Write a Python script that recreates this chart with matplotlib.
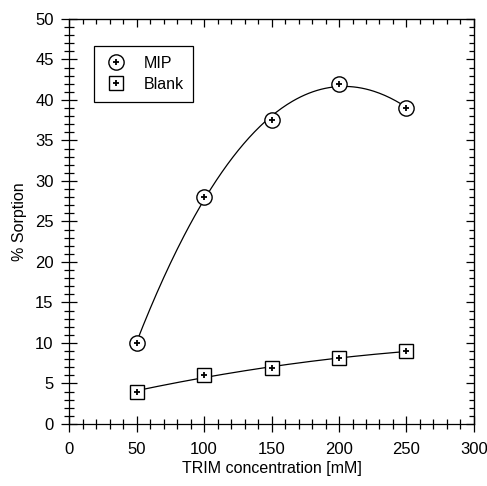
import numpy as np
import matplotlib.pyplot as plt
from matplotlib.ticker import MultipleLocator

plt.rcParams['font.family'] = ['Liberation Sans', 'DejaVu Sans']

# data
trim = [50, 100, 150, 200, 250]
mip = [10.0, 28.0, 37.5, 42.0, 39.0]
blank = [4.0, 6.0, 6.9, 8.1, 9.0]

fig = plt.figure(figsize=(4.87, 4.86), dpi=100)
ax = fig.add_axes([0.1417, 0.1276, 0.8316, 0.8334])

# smooth fitted curves
xs = np.linspace(50, 250, 200)
ax.plot(xs, np.polyval(np.polyfit(trim, mip, 3), xs), color='black', lw=0.9, zorder=2)
ax.plot(xs, np.polyval(np.polyfit(trim, blank, 2), xs), color='black', lw=0.9, zorder=2)

ax.plot(trim, mip, 'o', ms=11, mfc='white', mec='black', mew=1.0, zorder=3)
ax.plot(trim, mip, '+', ms=5, mec='black', mew=1.3, zorder=4)
ax.plot(trim, blank, 's', ms=10, mfc='white', mec='black', mew=1.0, zorder=3)
ax.plot(trim, blank, '+', ms=5, mec='black', mew=1.3, zorder=4)

# legend handles
h1, = ax.plot([], [], 'o', ms=11, mfc='white', mec='black', mew=1.0)
h1p, = ax.plot([], [], '+', ms=5, mec='black', mew=1.3)
h2, = ax.plot([], [], 's', ms=10, mfc='white', mec='black', mew=1.0)
h2p, = ax.plot([], [], '+', ms=5, mec='black', mew=1.3)
leg = ax.legend([(h1, h1p), (h2, h2p)], ['MIP', 'Blank'], loc='upper left',
                bbox_to_anchor=(0.062, 0.933), borderaxespad=0, fontsize=11.5,
                frameon=True, fancybox=False, edgecolor='black', framealpha=1,
                handlelength=1.6, borderpad=0.6, labelspacing=0.4, handletextpad=0.9)
leg.get_frame().set_linewidth(0.9)

ax.set_xlim(0, 300)
ax.set_ylim(0, 50)
ax.xaxis.set_major_locator(MultipleLocator(50))
ax.xaxis.set_minor_locator(MultipleLocator(10))
ax.yaxis.set_major_locator(MultipleLocator(5))
ax.yaxis.set_minor_locator(MultipleLocator(1))

ax.tick_params(which='both', direction='inout', labelsize=12, width=0.9)
ax.tick_params(which='major', length=12)
ax.tick_params(which='minor', length=7)
ax.tick_params(axis='x', which='major', pad=7)
ax.tick_params(axis='y', which='major', pad=5)

# inward ticks on top and right spines
top = ax.secondary_xaxis('top')
top.xaxis.set_major_locator(MultipleLocator(50))
top.xaxis.set_minor_locator(MultipleLocator(10))
top.tick_params(which='both', direction='in', labeltop=False, width=0.9)
top.tick_params(which='major', length=6)
top.tick_params(which='minor', length=3.5)
right = ax.secondary_yaxis('right')
right.yaxis.set_major_locator(MultipleLocator(5))
right.yaxis.set_minor_locator(MultipleLocator(1))
right.tick_params(which='both', direction='in', labelright=False, width=0.9)
right.tick_params(which='major', length=6)
right.tick_params(which='minor', length=3.5)

for s in ax.spines.values():
    s.set_linewidth(0.9)

ax.set_xlabel('TRIM concentration [mM]', fontsize=11.5, labelpad=3)
ax.set_ylabel('% Sorption', fontsize=11.5, labelpad=6)

fig.savefig('out.png', dpi=100)
